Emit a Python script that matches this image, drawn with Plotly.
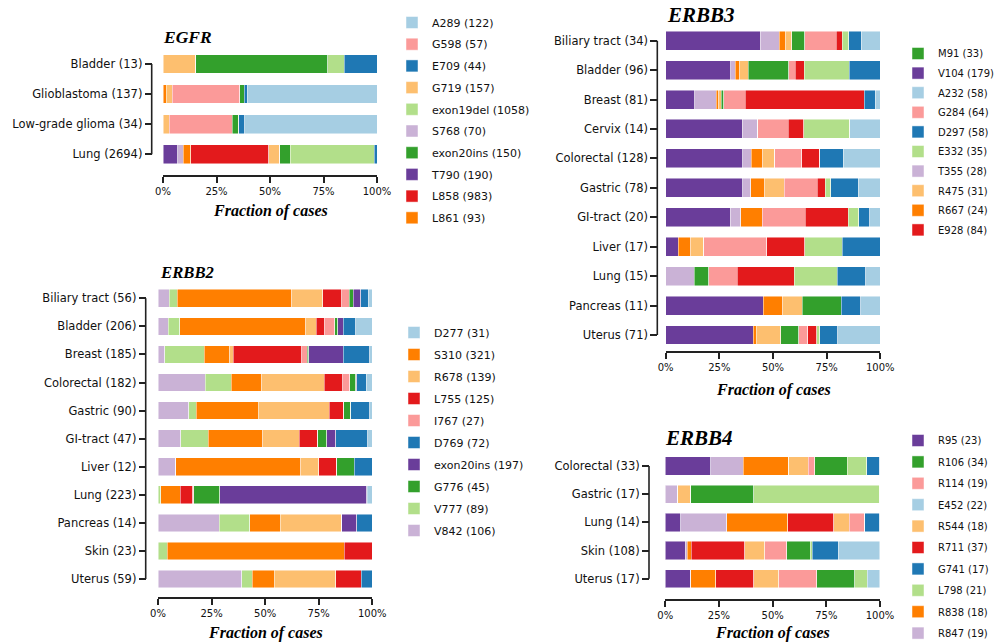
import plotly.graph_objects as go

# Paired palette used across all four panels
LBLUE, DBLUE = "#a6cee3", "#1f78b4"
LGREEN, GREEN = "#b2df8a", "#33a02c"
PINK, RED = "#fb9a99", "#e31a1c"
LORANGE, ORANGE = "#fdbf6f", "#ff7f00"
LPURPLE, PURPLE = "#cab2d6", "#6a3d9a"

# ---------------- EGFR ----------------
egfr_types = ["Bladder (13)", "Glioblastoma (137)", "Low-grade glioma (34)", "Lung (2694)"]
egfr_stack = ["T790", "S768", "L861", "L858", "G719", "G598", "exon20ins", "exon19del", "E709", "A289"]
egfr_counts = {
    "T790":      [0, 0, 0, 186],
    "S768":      [0, 0, 0, 70],
    "L861":      [0, 2, 0, 93],
    "L858":      [0, 0, 0, 983],
    "G719":      [2, 4, 1, 138],
    "G598":      [0, 43, 10, 0],
    "exon20ins": [8, 3, 1, 129],
    "exon19del": [1, 0, 0, 1058],
    "E709":      [2, 2, 1, 37],
    "A289":      [0, 83, 21, 0],
}
egfr_legend = ["A289 (122)", "G598 (57)", "E709 (44)", "G719 (157)", "exon19del (1058)",
               "S768 (70)", "exon20ins (150)", "T790 (190)", "L858 (983)", "L861 (93)"]
egfr_colors = {"A289": LBLUE, "G598": PINK, "E709": DBLUE, "G719": LORANGE, "exon19del": LGREEN,
               "S768": LPURPLE, "exon20ins": GREEN, "T790": PURPLE, "L858": RED, "L861": ORANGE}

# ---------------- ERBB2 ----------------
erbb2_types = ["Biliary tract (56)", "Bladder (206)", "Breast (185)", "Colorectal (182)", "Gastric (90)",
               "GI-tract (47)", "Liver (12)", "Lung (223)", "Pancreas (14)", "Skin (23)", "Uterus (59)"]
erbb2_stack = ["V842", "V777", "S310", "R678", "L755", "I767", "G776", "exon20ins", "D769", "D277"]
erbb2_counts = {
    "V842":      [3, 10, 6, 40, 13, 5, 1, 0, 4, 0, 23],
    "V777":      [2, 11, 34, 22, 3, 6, 0, 3, 2, 1, 3],
    "S310":      [30, 121, 22, 26, 26, 12, 7, 20, 2, 19, 6],
    "R678":      [8, 10, 3, 53, 30, 8, 1, 0, 4, 0, 17],
    "L755":      [5, 8, 59, 16, 6, 4, 1, 13, 0, 3, 7],
    "I767":      [2, 10, 5, 6, 0, 0, 0, 1, 0, 0, 0],
    "G776":      [1, 3, 1, 5, 3, 2, 1, 27, 0, 0, 0],
    "exon20ins": [2, 5, 30, 1, 0, 2, 0, 153, 1, 0, 0],
    "D769":      [2, 12, 23, 8, 8, 7, 1, 1, 1, 0, 3],
    "D277":      [1, 16, 2, 5, 1, 1, 0, 5, 0, 0, 0],
}
erbb2_legend = ["D277 (31)", "S310 (321)", "R678 (139)", "L755 (125)", "I767 (27)",
                "D769 (72)", "exon20ins (197)", "G776 (45)", "V777 (89)", "V842 (106)"]
erbb2_colors = {"D277": LBLUE, "S310": ORANGE, "R678": LORANGE, "L755": RED, "I767": PINK,
                "D769": DBLUE, "exon20ins": PURPLE, "G776": GREEN, "V777": LGREEN, "V842": LPURPLE}

# ---------------- ERBB3 ----------------
erbb3_types = ["Biliary tract (34)", "Bladder (96)", "Breast (81)", "Cervix (14)", "Colorectal (128)",
               "Gastric (78)", "GI-tract (20)", "Liver (17)", "Lung (15)", "Pancreas (11)", "Uterus (71)"]
erbb3_stack = ["V104", "T355", "R667", "R475", "M91", "G284", "E928", "E332", "D297", "A232"]
erbb3_counts = {
    "V104": [15, 29, 11, 5, 46, 28, 6, 1, 0, 5, 29],
    "T355": [3, 2, 8, 1, 5, 3, 1, 0, 2, 0, 0],
    "R667": [1, 2, 1, 0, 7, 5, 2, 1, 0, 1, 1],
    "R475": [1, 4, 1, 0, 7, 7, 0, 1, 0, 1, 8],
    "M91":  [2, 18, 1, 0, 0, 0, 0, 0, 1, 2, 6],
    "G284": [5, 3, 8, 2, 16, 12, 4, 5, 2, 0, 3],
    "E928": [1, 4, 45, 1, 11, 3, 4, 3, 4, 0, 3],
    "E332": [1, 20, 0, 3, 0, 2, 1, 3, 3, 0, 1],
    "D297": [2, 14, 4, 0, 14, 10, 1, 3, 2, 1, 6],
    "A232": [3, 0, 2, 2, 22, 8, 1, 0, 1, 1, 14],
}
erbb3_legend = ["M91 (33)", "V104 (179)", "A232 (58)", "G284 (64)", "D297 (58)",
                "E332 (35)", "T355 (28)", "R475 (31)", "R667 (24)", "E928 (84)"]
erbb3_colors = {"M91": GREEN, "V104": PURPLE, "A232": LBLUE, "G284": PINK, "D297": DBLUE,
                "E332": LGREEN, "T355": LPURPLE, "R475": LORANGE, "R667": ORANGE, "E928": RED}

# ---------------- ERBB4 ----------------
erbb4_types = ["Colorectal (33)", "Gastric (17)", "Lung (14)", "Skin (108)", "Uterus (17)"]
erbb4_stack = ["R95", "R847", "R838", "R711", "R544", "R114", "R106", "L798", "G741", "E452"]
erbb4_counts = {
    "R95":  [7, 0, 1, 10, 2],
    "R847": [5, 1, 3, 1, 0],
    "R838": [7, 0, 4, 2, 2],
    "R711": [0, 0, 3, 27, 3],
    "R544": [3, 1, 1, 10, 2],
    "R114": [1, 0, 1, 11, 3],
    "R106": [5, 5, 0, 12, 3],
    "L798": [3, 10, 0, 1, 1],
    "G741": [2, 0, 1, 13, 0],
    "E452": [0, 0, 0, 21, 1],
}
erbb4_legend = ["R95 (23)", "R106 (34)", "R114 (19)", "E452 (22)", "R544 (18)",
                "R711 (37)", "G741 (17)", "L798 (21)", "R838 (18)", "R847 (19)"]
erbb4_colors = {"R95": PURPLE, "R106": GREEN, "R114": PINK, "E452": LBLUE, "R544": LORANGE,
                "R711": RED, "G741": DBLUE, "L798": LGREEN, "R838": ORANGE, "R847": LPURPLE}

pct_ticks = [0, 25, 50, 75, 100]
pct_labels = ["0%", "25%", "50%", "75%", "100%"]

# ---------------- page geometry (pixels) ----------------
W, H = 998, 643


def fx(px):
    return px / W


def fy(py):
    return 1 - py / H


panels = [
    dict(gene="EGFR", types=egfr_types, stack=egfr_stack, counts=egfr_counts, legend=egfr_legend,
         colors=egfr_colors, x0=163, x1=377, row0=64, row1=154.3, axis_y=175.7, yline_x=151.7,
         title_xy=(161, 37), title_size=17.5, label_y=211, bar_w=0.62,
         leg_xy=(392, 8), leg_gap=2.7, leg_font=11),
    dict(gene="ERBB2", types=erbb2_types, stack=erbb2_stack, counts=erbb2_counts, legend=erbb2_legend,
         colors=erbb2_colors, x0=158, x1=372.3, row0=298.3, row1=579, axis_y=597.7, yline_x=145.7,
         title_xy=(158, 273), title_size=16.7, label_y=633, bar_w=0.63,
         leg_xy=(394, 318), leg_gap=3, leg_font=11),
    dict(gene="ERBB3", types=erbb3_types, stack=erbb3_stack, counts=erbb3_counts, legend=erbb3_legend,
         colors=erbb3_colors, x0=665.7, x1=880.3, row0=40.7, row1=335, axis_y=352.3, yline_x=657.3,
         title_xy=(665, 15), title_size=21, label_y=390, bar_w=0.645,
         leg_xy=(898, 39), leg_gap=0.6, leg_font=10),
    dict(gene="ERBB4", types=erbb4_types, stack=erbb4_stack, counts=erbb4_counts, legend=erbb4_legend,
         colors=erbb4_colors, x0=665.3, x1=880, row0=466, row1=578.7, axis_y=600, yline_x=649,
         title_xy=(663, 438), title_size=21, label_y=633, bar_w=0.65,
         leg_xy=(898, 426), leg_gap=2.4, leg_font=10),
]

AXIS_COLOR = "#222222"
SANS = "DejaVu Sans"
SERIF = "Liberation Serif"

fig = go.Figure()
layout = dict(
    width=W, height=H, margin=dict(l=0, r=0, t=0, b=0, autoexpand=False),
    paper_bgcolor="white", plot_bgcolor="white",
    barmode="stack", showlegend=True,
    shapes=[], annotations=[],
)

for k, p in enumerate(panels, start=1):
    sfx = "" if k == 1 else str(k)
    xa, ya = "x" + sfx, "y" + sfx
    leg = "legend" + sfx
    n = len(p["types"])
    totals = [sum(p["counts"][m][i] for m in p["stack"]) for i in range(n)]
    rows = list(range(n))

    # stacked horizontal bars, each segment as a share of the tumour type's cases
    for m in p["stack"]:
        share = [100.0 * c / t for c, t in zip(p["counts"][m], totals)]
        label = next(s for s in p["legend"] if s.split(" (")[0] == m)
        fig.add_trace(go.Bar(
            y=rows, x=share, orientation="h", width=p["bar_w"],
            name=label, legendgroup=p["gene"] + m, legend=leg,
            legendrank=p["legend"].index(label) + 1,
            marker=dict(color=p["colors"][m], line=dict(color="rgba(255,255,255,0.6)", width=0.8)),
            xaxis=xa, yaxis=ya, hoverinfo="skip",
        ))

    step = (p["row1"] - p["row0"]) / (n - 1)
    top, bottom = p["row0"] - step / 2, p["row1"] + step / 2

    layout["xaxis" + sfx] = dict(
        domain=[fx(p["x0"]), fx(p["x1"])], range=[0, 100], anchor="free", position=fy(p["axis_y"]),
        showline=True, linecolor=AXIS_COLOR, linewidth=1.6, ticks="outside", ticklen=6,
        tickwidth=1.5, tickcolor=AXIS_COLOR, tickvals=pct_ticks, ticktext=pct_labels,
        tickfont=dict(family=SANS, size=10, color="#111"), showgrid=False, zeroline=False,
        fixedrange=True, automargin=False,
    )
    layout["yaxis" + sfx] = dict(
        domain=[fy(bottom), fy(top)], range=[n - 0.5, -0.5], anchor="free", position=fx(p["yline_x"]),
        showline=False, ticks="outside", ticklen=7, tickwidth=1.5, tickcolor=AXIS_COLOR,
        tickvals=rows, ticktext=p["types"], tickfont=dict(family=SANS, size=11.5, color="#111"),
        showgrid=False, zeroline=False, fixedrange=True, automargin=False,
    )
    # axis spine spanning first to last tumour type
    layout["shapes"].append(dict(
        type="line", xref="paper", yref=ya, x0=fx(p["yline_x"]), x1=fx(p["yline_x"]),
        y0=0, y1=n - 1, line=dict(color=AXIS_COLOR, width=1.6),
    ))
    layout["annotations"].append(dict(
        text="<b><i>%s</i></b>" % p["gene"], xref="paper", yref="paper",
        x=fx(p["title_xy"][0]), y=fy(p["title_xy"][1]), xanchor="left", yanchor="middle",
        showarrow=False, font=dict(family=SERIF, size=p["title_size"], color="#000"),
    ))
    layout["annotations"].append(dict(
        text="<b><i>Fraction of cases</i></b>", xref="paper", yref="paper",
        x=fx((p["x0"] + p["x1"]) / 2), y=fy(p["label_y"]), xanchor="center", yanchor="middle",
        showarrow=False, font=dict(family=SERIF, size=16, color="#000"),
    ))
    layout[leg] = dict(
        x=fx(p["leg_xy"][0]), y=fy(p["leg_xy"][1]), xanchor="left", yanchor="top",
        traceorder="grouped", tracegroupgap=p["leg_gap"], bgcolor="rgba(0,0,0,0)",
        font=dict(family=SANS, size=p["leg_font"], color="#111"),
        itemclick=False, itemdoubleclick=False,
    )

fig.update_layout(**layout)
fig.write_html("out.html")
